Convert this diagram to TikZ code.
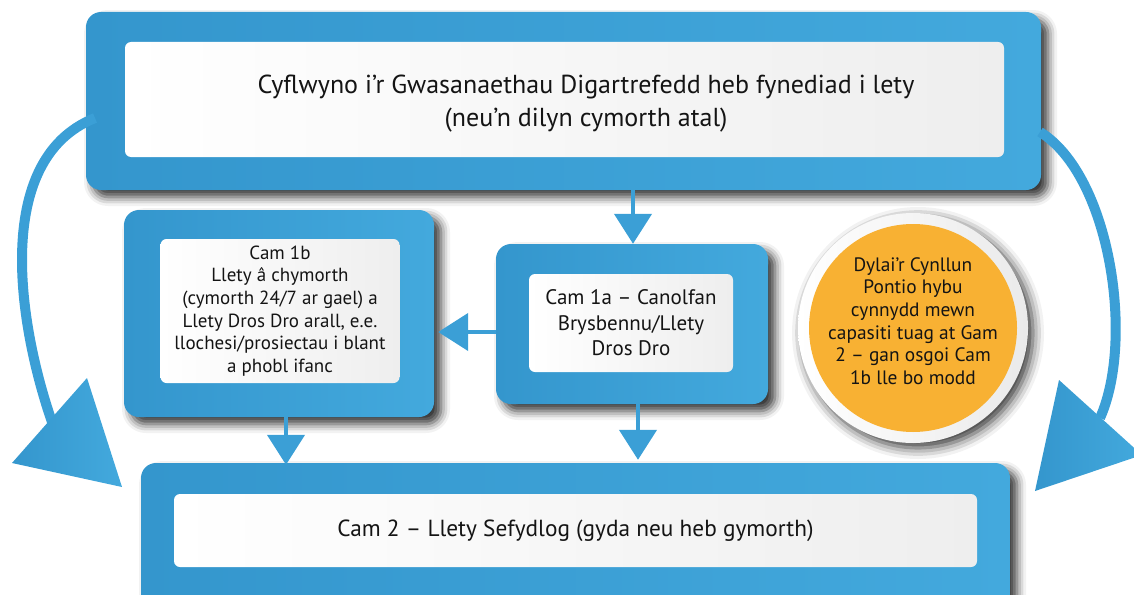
\documentclass[tikz,border=0pt]{standalone}
\usepackage{fontspec}
\setmainfont{PT Sans}
\usetikzlibrary{arrows.meta,shadows.blur,calc}
\definecolor{blueL}{HTML}{3496CD}
\definecolor{blueR}{HTML}{43A9DD}
\definecolor{arrowblue}{HTML}{3B9FD6}
\definecolor{orangefill}{HTML}{F8B133}
\definecolor{ringgray}{HTML}{EAEAEA}
\definecolor{innergray}{HTML}{EEEEEE}
\definecolor{txt}{HTML}{141414}
\tikzset{
  outerbox/.style 2 args={rounded corners=15pt, left color=blueL, right color=blueR,
    draw=none, minimum width=#1pt, minimum height=#2pt, inner sep=0pt,
    blur shadow={shadow xshift=7pt, shadow yshift=-7pt, shadow blur radius=9pt, shadow opacity=80}},
  innerbox/.style 2 args={rounded corners=6pt, left color=white, right color=innergray,
    draw=none, minimum width=#1pt, minimum height=#2pt, inner sep=0pt, align=center, text=txt},
  conn/.style={draw=arrowblue, line width=4.5pt, -{Triangle[width=37pt,length=30pt]}},
  bigcurve/.style={draw=arrowblue, line width=10pt},
  bighead/.style={left color=blueL, right color=blueR, draw=none},
}
\begin{document}
\begin{tikzpicture}[x=1pt,y=-1pt]
\useasboundingbox (0,0) rectangle (1134,594);
\clip (0,0) rectangle (1134,594);
% boxes
\node[outerbox={955}{178}] (top) at (563.5,101) {};
\node[innerbox={879}{115}] (topin) at (564.5,99.5) {};
\node[align=center, text=txt, font=\fontsize{26}{33}\selectfont] (toptext) at (586,104)
  {Cyflwyno i’r Gwasanaethau Digartrefedd heb fynediad i lety\\(neu’n dilyn cymorth atal)};
\node[outerbox={310}{207}] (b1) at (279,313.5) {};
\node[innerbox={239}{144}, font=\fontsize{19}{22.6}\selectfont] (b1in) at (280,311)
  {Cam 1b\\Llety â chymorth\\(cymorth 24/7 ar gael) a\\Llety Dros Dro arall, e.e.\\llochesi/prosiectau i blant\\a phobl ifanc};
\node[outerbox={272}{160}] (a1) at (632,324) {};
\node[innerbox={204}{98}, font=\fontsize{21}{25.5}\selectfont] (a1in) at (631,323)
  {Cam 1a – Canolfan\\Brysbennu/Llety\\Dros Dro};
\node[outerbox={869}{165}] (bot) at (575.5,545.5) {};
\node[innerbox={803}{73}, font=\fontsize{23.3}{26}\selectfont] (botin) at (575.5,530.5)
  {Cam 2 – Llety Sefydlog (gyda neu heb gymorth)};
% circle
\node[circle, left color=white, right color=ringgray, draw=none, minimum size=230pt, inner sep=0pt,
  blur shadow={shadow xshift=5pt, shadow yshift=-5pt, shadow blur radius=11pt, shadow opacity=80}] (circ) at (913,328) {};
\node[circle, fill=orangefill, draw=none, minimum size=208pt, inner sep=0pt] (circin) at (circ.center) {};
\node[align=center, text=txt, font=\fontsize{19.4}{22.6}\selectfont] (circtext) at (913,321)
  {Dylai’r Cynllun\\Pontio hybu\\cynnydd mewn\\capasiti tuag at Gam\\2 – gan osgoi Cam\\1b lle bo modd};
% straight connectors
\draw[conn] (top.south -| 633,0) -- (a1.north -| 633,0);
\draw[conn] (a1.west |- 0,332) -- ([xshift=4pt]b1.east |- 0,332);
\draw[conn] (a1.south -| 638,0) -- ([yshift=3pt]bot.north -| 638,0);
\draw[conn] (b1.south -| 286,0) -- ([yshift=-2pt]bot.north -| 286,0);
% curved arrows
\coordinate (Ls) at (95,118);
\coordinate (Le) at (52,422);
\coordinate (Rs) at (1040,132);
\coordinate (Re) at (1100,418);
\draw[bigcurve] (Ls) .. controls (-10,160) and (20,330) .. (Le);
\draw[bigcurve] (Rs) .. controls (1110,175) and (1135,340) .. (Re);
\path[bighead] (87,378) -- (12,463) -- (122,487) -- cycle;
\path[bighead] (1059,380) -- (1142,455) -- (1035,491) -- cycle;
\end{tikzpicture}
\end{document}
